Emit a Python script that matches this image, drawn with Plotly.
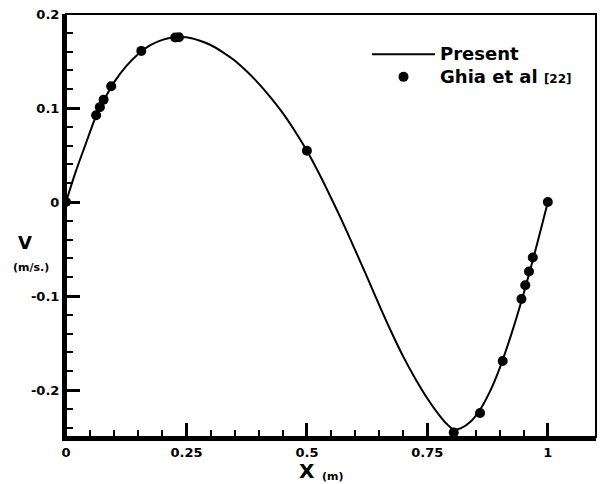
import plotly.graph_objects as go

# Present (computed) v-velocity along horizontal centreline
present_x = [0.0, 0.02, 0.04, 0.0625, 0.08, 0.1, 0.125, 0.15, 0.175, 0.2, 0.225, 0.25,
             0.275, 0.3, 0.325, 0.35, 0.375, 0.4, 0.425, 0.45, 0.475, 0.5, 0.525, 0.55,
             0.575, 0.6, 0.625, 0.65, 0.675, 0.7, 0.725, 0.75, 0.775, 0.79, 0.805, 0.82,
             0.84, 0.86, 0.88, 0.9, 0.925, 0.95, 0.975, 1.0]
present_v = [0.0, 0.032, 0.0605, 0.0915, 0.1095, 0.1275, 0.1445, 0.1575, 0.1668, 0.1725, 0.1752, 0.1752,
             0.172, 0.167, 0.1595, 0.1505, 0.139, 0.126, 0.111, 0.0945, 0.0755, 0.0545, 0.0305, 0.0045,
             -0.0225, -0.051, -0.080, -0.1095, -0.138, -0.1645, -0.188, -0.209, -0.227, -0.236, -0.242, -0.2405,
             -0.2335, -0.2205, -0.2015, -0.177, -0.1395, -0.097, -0.050, 0.0]

# Ghia et al. [22] reference data
ghia_x = [1.0000, 0.9688, 0.9609, 0.9531, 0.9453, 0.9063, 0.8594, 0.8047, 0.5000,
          0.2344, 0.2266, 0.1563, 0.0938, 0.0781, 0.0703, 0.0625, 0.0000]
ghia_v = [0.0, -0.05906, -0.07391, -0.08864, -0.10313, -0.16914, -0.22445, -0.24533, 0.05454,
          0.17527, 0.17507, 0.16077, 0.12317, 0.10890, 0.10091, 0.09233, 0.0]

x_ticks = [0, 0.25, 0.5, 0.75, 1]
x_ticktext = ["0", "0.25", "0.5", "0.75", "1"]
y_ticks = [-0.2, -0.1, 0, 0.1, 0.2]
y_ticktext = ["-0.2", "-0.1", "0", "0.1", "0.2"]
x_minor = [0.05, 0.1, 0.15, 0.2, 0.3, 0.35, 0.4, 0.45, 0.55, 0.6, 0.65, 0.7, 0.8, 0.85, 0.9, 0.95]
y_minor = [-0.24, -0.22, -0.18, -0.16, -0.14, -0.12, -0.08, -0.06, -0.04, -0.02,
           0.02, 0.04, 0.06, 0.08, 0.12, 0.14, 0.16, 0.18]

FONT = "DejaVu Sans, Liberation Sans, Arial, sans-serif"

fig = go.Figure()
fig.add_trace(go.Scatter(x=present_x, y=present_v, mode="lines",
                         name="<span style='font-size:18px'>Present</span>",
                         line=dict(color="black", width=2, shape="spline", smoothing=1.0)))
fig.add_trace(go.Scatter(x=ghia_x, y=ghia_v, mode="markers",
                         name="<span style='font-size:18px'>Ghia et al </span><span style='font-size:12px'>[22]</span>",
                         marker=dict(color="black", size=10)))

fig.update_layout(
    width=601, height=484,
    margin=dict(l=66, r=5, t=14, b=47),
    paper_bgcolor="white", plot_bgcolor="white",
    font=dict(family=FONT, color="black", size=13, weight="bold"),
    showlegend=True,
    legend=dict(x=0.568, y=0.943, xanchor="left", yanchor="top", itemwidth=63,
                font=dict(family=FONT, size=15, color="black", weight="bold"),
                bgcolor="rgba(0,0,0,0)", tracegroupgap=0),
    xaxis=dict(range=[0, 1.1], tickmode="array", tickvals=x_ticks, ticktext=x_ticktext,
               ticks="inside", ticklen=14, tickwidth=3, tickcolor="black",
               showline=True, linecolor="black", linewidth=4, mirror=False,
               showgrid=False, zeroline=False,
               tickfont=dict(family=FONT, size=13, weight="bold"),
               minor=dict(tickmode="array", tickvals=x_minor, ticks="inside", ticklen=7,
                          tickwidth=2, tickcolor="black", showgrid=False)),
    yaxis=dict(range=[-0.25, 0.2], tickmode="array", tickvals=y_ticks, ticktext=y_ticktext,
               ticks="inside", ticklen=14, tickwidth=3, tickcolor="black",
               showline=True, linecolor="black", linewidth=4, mirror=False,
               showgrid=False, zeroline=False,
               tickfont=dict(family=FONT, size=13, weight="bold"),
               minor=dict(tickmode="array", tickvals=y_minor, ticks="inside", ticklen=7,
                          tickwidth=2, tickcolor="black", showgrid=False)),
    shapes=[dict(type="rect", xref="paper", yref="paper", x0=0, y0=0, x1=1, y1=1,
                 line=dict(color="black", width=2), layer="above")],
    annotations=[
        dict(text="V", xref="paper", yref="paper", x=-0.0774, y=0.459, showarrow=False,
             xanchor="center", yanchor="middle", font=dict(family=FONT, size=18, weight="bold")),
        dict(text="(m/s.)", xref="paper", yref="paper", x=-0.066, y=0.400, showarrow=False,
             xanchor="center", yanchor="middle", font=dict(family=FONT, size=11, weight="bold")),
        dict(text="X", xref="paper", yref="paper", x=0.4547, y=-0.081, showarrow=False,
             xanchor="center", yanchor="middle", font=dict(family=FONT, size=20, weight="bold")),
        dict(text="(m)", xref="paper", yref="paper", x=0.5038, y=-0.094, showarrow=False,
             xanchor="center", yanchor="middle", font=dict(family=FONT, size=11, weight="bold")),
    ],
)

fig.write_html("out.html")
